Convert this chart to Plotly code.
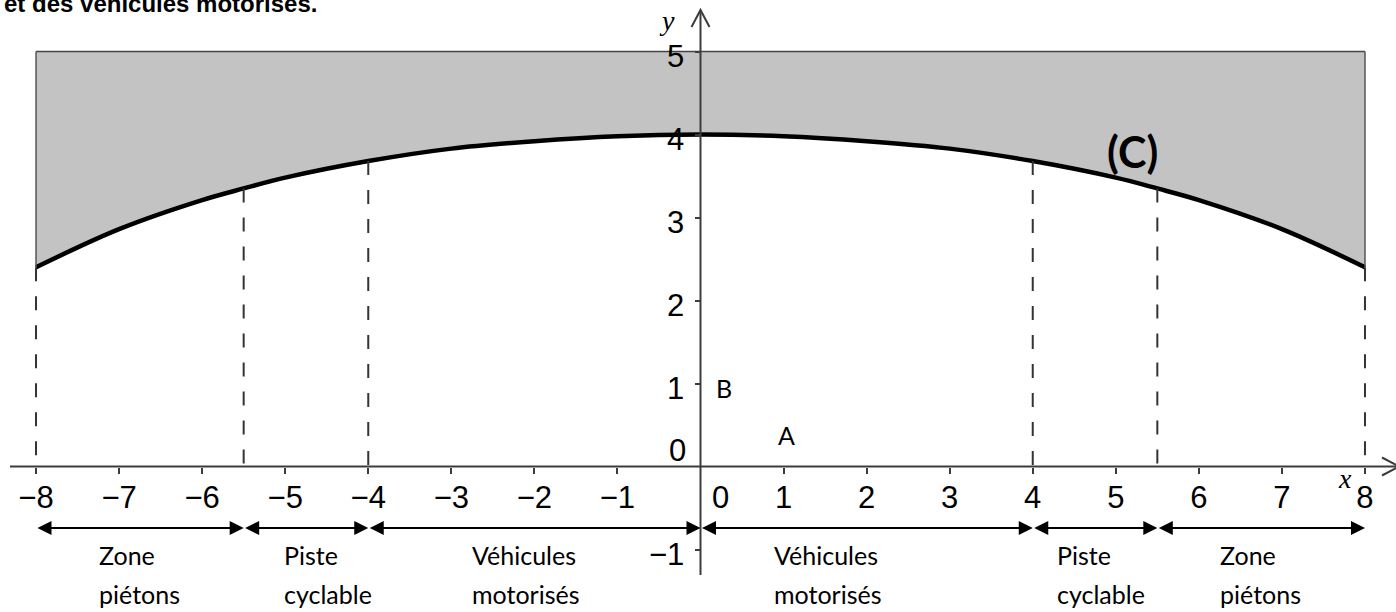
import plotly.graph_objects as go

# ---------------- data ----------------
title_text = "et des véhicules motorisés."
curve_x = [-8, -7, -6, -5.5, -5, -4, -3, -2, -1, 0, 1, 2, 3, 4, 5, 5.5, 6, 7, 8]
curve_y = [2.40, 2.86, 3.21, 3.35, 3.48, 3.68, 3.83, 3.92, 3.98, 4.00,
           3.98, 3.92, 3.83, 3.68, 3.48, 3.35, 3.21, 2.86, 2.40]
band_top = 5
curve_name = "(C)"
dash_x = [-8, -5.5, -4, 4, 5.5, 8]
zone_bounds = [-8, -5.5, -4, 0, 4, 5.5, 8]
zone_line1 = ["Zone", "Piste", "Véhicules", "Véhicules", "Piste", "Zone"]
zone_line2 = ["piétons", "cyclable", "motorisés", "motorisés", "cyclable", "piétons"]
x_tick_vals = [-8, -7, -6, -5, -4, -3, -2, -1, 1, 2, 3, 4, 5, 6, 7, 8]
y_tick_vals = [-1, 1, 2, 3, 4, 5]
point_names = ["A", "B"]
point_x = [1.03, 0.28]
point_y = [0.38, 0.95]

# ---------------- layout geometry ----------------
W, H = 1396, 612
X0_PX, UX = 700.5, 83.06
Y0_PX, UY = 466.5, 83.0


def xd(px):
    return (px - X0_PX) / UX


def yd(py):
    return (Y0_PX - py) / UY


x_range = [xd(0), xd(W)]
y_range = [yd(H), yd(0)]
zone_label_left_px = [97, 282, 470, 772, 1055, 1218]

AXIS_COLOR = "#3c3c3c"
TICK_FONT = dict(family="Liberation Sans, Arial", size=31, color="black")
LABEL_FONT = dict(family="Lato, Open Sans, sans-serif", size=25, color="black")

fig = go.Figure()

# shaded band between curve and y = 5
fig.add_trace(go.Scatter(x=curve_x, y=[band_top] * len(curve_x), mode="lines",
                         line=dict(color="#444444", width=1.5),
                         hoverinfo="skip", showlegend=False))
fig.add_trace(go.Scatter(x=curve_x, y=curve_y, mode="lines", fill="tonexty",
                         fillcolor="#c3c3c3", line=dict(color="black", width=4.5, shape="spline"),
                         hoverinfo="skip", showlegend=False))

# dashed verticals from curve to x axis
lookup = dict(zip(curve_x, curve_y))
for xv in dash_x:
    fig.add_trace(go.Scatter(x=[xv, xv], y=[lookup[xv], 0], mode="lines",
                             line=dict(color="#333333", width=2, dash="14px,15px"),
                             hoverinfo="skip", showlegend=False))

# side edges of band
for xv in (zone_bounds[0], zone_bounds[-1]):
    fig.add_shape(type="line", x0=xv, x1=xv, y0=lookup[xv], y1=band_top,
                  line=dict(color="#555555", width=1.5), layer="above")

# axis lines and arrow chevrons
fig.add_shape(type="line", x0=xd(10), x1=xd(W + 5), y0=0, y1=0,
              line=dict(color=AXIS_COLOR, width=2))
fig.add_shape(type="line", x0=0, x1=0, y0=yd(575), y1=yd(11),
              line=dict(color=AXIS_COLOR, width=2))
fig.add_shape(type="path",
              path=f"M {xd(1382)},{yd(Y0_PX - 9)} L {xd(1399)},0 L {xd(1382)},{yd(Y0_PX + 9)}",
              line=dict(color=AXIS_COLOR, width=2))
fig.add_shape(type="path",
              path=f"M {xd(X0_PX - 9)},{yd(27)} L 0,{yd(10)} L {xd(X0_PX + 9)},{yd(27)}",
              line=dict(color=AXIS_COLOR, width=2))

annotations = []
# double arrows
arrow_y = yd(528)
for a, b in zip(zone_bounds[:-1], zone_bounds[1:]):
    annotations.append(dict(x=b, y=arrow_y, ax=a, ay=arrow_y, xref="x", yref="y",
                            axref="x", ayref="y", text="", showarrow=True,
                            arrowside="end+start", arrowhead=2, startarrowhead=2,
                            arrowsize=1.4, startarrowsize=1.4, arrowwidth=2,
                            arrowcolor="black", standoff=0, startstandoff=0))
# zone labels
for left_px, t1, t2 in zip(zone_label_left_px, zone_line1, zone_line2):
    annotations.append(dict(x=xd(left_px), y=yd(555), text=t1, showarrow=False,
                            xanchor="left", yanchor="middle", font=LABEL_FONT))
    annotations.append(dict(x=xd(left_px), y=yd(594), text=t2, showarrow=False,
                            xanchor="left", yanchor="middle", font=LABEL_FONT))

# origin labels
annotations.append(dict(x=xd(720), y=yd(497), text="0", showarrow=False, font=TICK_FONT))
annotations.append(dict(x=xd(677), y=yd(450), text="0", showarrow=False, font=TICK_FONT))

# axis names
annotations.append(dict(x=xd(667), y=yd(20), text="<i>y</i>", showarrow=False,
                        font=dict(family="Liberation Serif, Times New Roman", size=28, color="black")))
annotations.append(dict(x=xd(1345), y=yd(478), text="<i>x</i>", showarrow=False,
                        font=dict(family="Liberation Serif, Times New Roman", size=28, color="black")))

# points
for n, px_, py_ in zip(point_names, point_x, point_y):
    annotations.append(dict(x=px_, y=py_, text=n, showarrow=False, font=LABEL_FONT))

# curve name
annotations.append(dict(x=xd(1132), y=yd(151), text="<b>" + curve_name + "</b>", showarrow=False,
                        font=dict(family="Lato, Open Sans, sans-serif", size=43, color="black")))

# cropped title (the reference shows only its lower part)
annotations.append(dict(x=xd(2), y=yd(19), text="<b>" + title_text + "</b>", showarrow=False,
                        xanchor="left", yanchor="bottom",
                        font=dict(family="Liberation Sans, Arial", size=24, color="black")))

x_pos = (0 - y_range[0]) / (y_range[1] - y_range[0])
y_pos = (0 - x_range[0]) / (x_range[1] - x_range[0])

fig.update_layout(
    width=W, height=H,
    margin=dict(l=0, r=0, t=0, b=0),
    paper_bgcolor="white", plot_bgcolor="white",
    showlegend=False,
    annotations=annotations,
    xaxis=dict(range=x_range, anchor="free", position=x_pos, showgrid=False, zeroline=False,
               showline=False, tickmode="array", tickvals=x_tick_vals, ticks="outside",
               ticklen=6, tickwidth=2, tickcolor=AXIS_COLOR, tickfont=TICK_FONT,
               ticklabelstandoff=-3, fixedrange=True),
    yaxis=dict(range=y_range, anchor="free", position=y_pos, showgrid=False, zeroline=False,
               showline=False, tickmode="array", tickvals=y_tick_vals, ticks="outside",
               ticklen=6, tickwidth=2, tickcolor=AXIS_COLOR, tickfont=TICK_FONT,
               ticklabelstandoff=4, ticklabelshift=5, fixedrange=True),
)

fig.write_html("out.html", config={"displayModeBar": False},
               post_script="document.body.style.margin='0';document.body.style.overflow='hidden';")
